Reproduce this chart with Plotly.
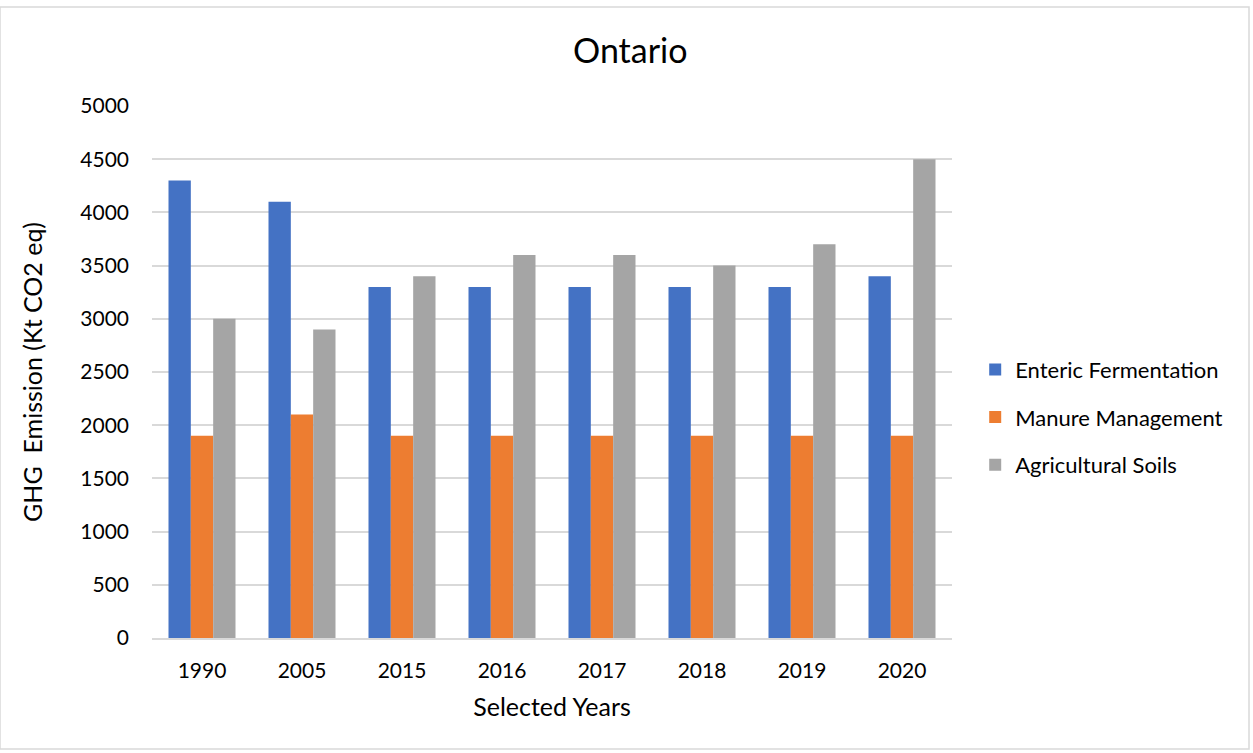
import plotly.graph_objects as go

years = ["1990", "2005", "2015", "2016", "2017", "2018", "2019", "2020"]
enteric = [4300, 4100, 3300, 3300, 3300, 3300, 3300, 3400]
manure = [1900, 2100, 1900, 1900, 1900, 1900, 1900, 1900]
soils = [3000, 2900, 3400, 3600, 3600, 3500, 3700, 4500]

series = [
    ("Enteric Fermentation", enteric, "#4472C4"),
    ("Manure Management", manure, "#ED7D31"),
    ("Agricultural Soils", soils, "#A5A5A5"),
]

FONT = "Lato, Calibri, 'Open Sans', sans-serif"

fig = go.Figure()
for i, (name, vals, col) in enumerate(series):
    fig.add_trace(go.Bar(x=years, y=vals, name=name, marker_color=col,
                         marker_line_width=0, legendgroup=f"g{i}"))

fig.update_layout(
    width=1253, height=753,
    paper_bgcolor="white", plot_bgcolor="white",
    barmode="group", bargap=0.33, bargroupgap=0,
    margin=dict(l=152, r=301, t=106, b=115),
    font=dict(family=FONT, size=21, color="#000000"),
    title=dict(text="Ontario", x=0.503, xref="container", xanchor="center",
               y=0.932, yref="container", yanchor="middle",
               font=dict(size=34, family=FONT, color="#000000")),
    legend=dict(x=1.029, xanchor="left", y=0.415, yanchor="middle",
                font=dict(size=22, family=FONT), tracegroupgap=16,
                itemwidth=30, bgcolor="rgba(0,0,0,0)"),
    shapes=[dict(type="rect", xref="paper", yref="paper",
                 x0=-152/800, x1=(1253-152-4)/800,
                 y0=-(115-4)/532, y1=(106-7)/532 + 1,
                 line=dict(color="#D9D9D9", width=1.5), layer="below")],
)

fig.update_xaxes(
    title=dict(text="Selected Years", font=dict(size=25, family=FONT), standoff=18),
    showgrid=False, showline=True, linecolor="#D9D9D9", linewidth=1.5,
    ticks="", tickfont=dict(size=21, family=FONT), ticklabelstandoff=13,
)
fig.update_yaxes(
    title=dict(text="GHG  Emission (Kt CO2 eq)", font=dict(size=25, family=FONT), standoff=30),
    range=[0, 5000], dtick=500, showgrid=True, gridcolor="#D9D9D9", gridwidth=1.5,
    zeroline=False, showline=False, ticks="", ticklen=0,
    tickfont=dict(size=21, family=FONT), ticklabelstandoff=22,
)

fig.write_html("out.html")
